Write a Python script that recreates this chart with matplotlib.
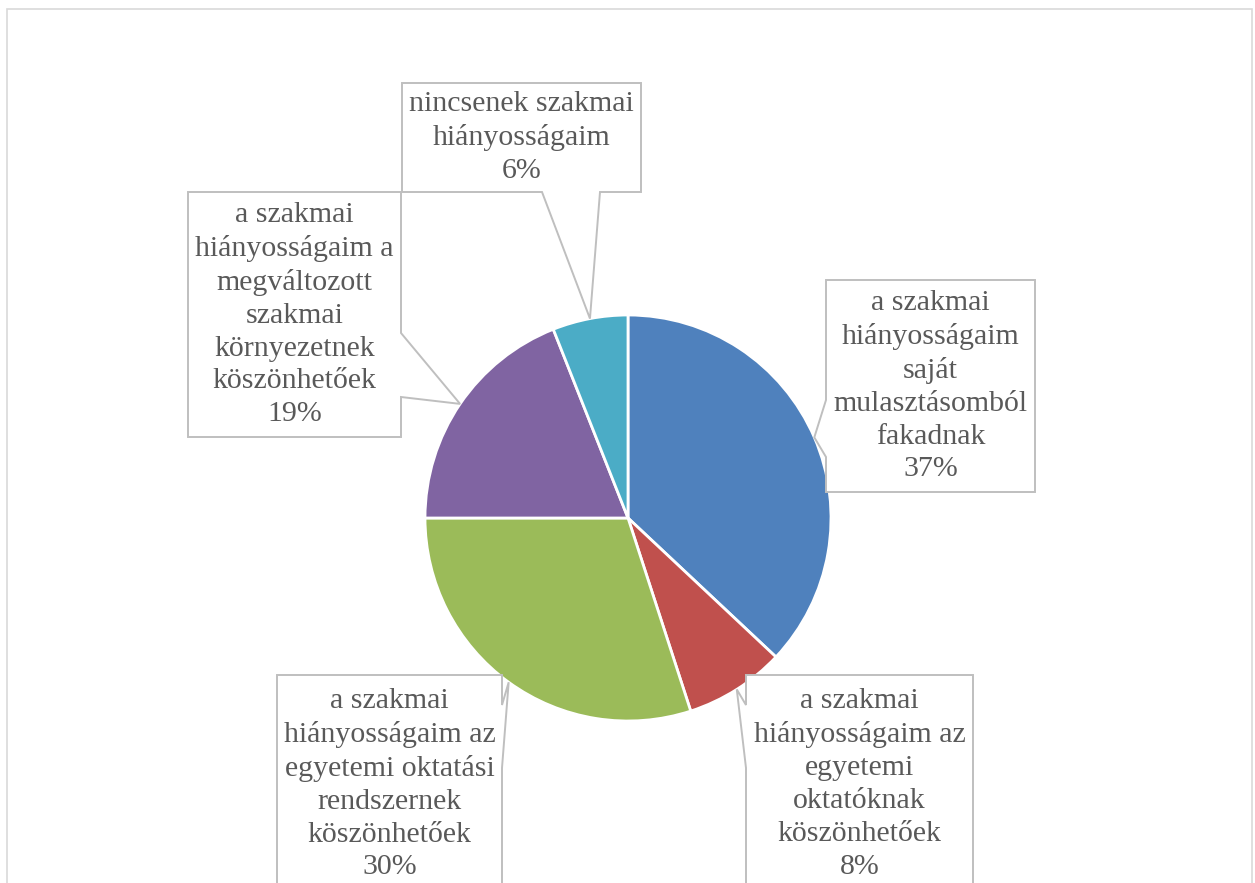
import numpy as np
import matplotlib.pyplot as plt
from matplotlib.patches import Polygon, Rectangle

plt.rcParams["font.family"] = ["Liberation Serif", "DejaVu Serif"]

# ============ 数据 ============
labels = [
    "a szakmai\nhiányosságaim\nsaját\nmulasztásomból\nfakadnak",
    "a szakmai\nhiányosságaim az\negyetemi\noktatóknak\nköszönhetőek",
    "a szakmai\nhiányosságaim az\negyetemi oktatási\nrendszernek\nköszönhetőek",
    "a szakmai\nhiányosságaim a\nmegváltozott\nszakmai\nkörnyezetnek\nköszönhetőek",
    "nincsenek szakmai\nhiányosságaim",
]
values = [37, 8, 30, 19, 6]
colors = ["#4F81BD", "#C0504D", "#9BBB59", "#8064A2", "#4BACC6"]

# ============ 画布 (像素坐标, y 向下) ============
W, H = 1255, 883
fig = plt.figure(figsize=(W / 100, H / 100), dpi=100)
ax = fig.add_axes([0, 0, 1, 1])
ax.set_xlim(0, W)
ax.set_ylim(0, H)
ax.set_aspect("equal")
ax.axis("off")


def py(y):
    """屏幕 y (向下) -> 数据 y (向上)"""
    return H - y


# 外框
ax.add_patch(Rectangle((7, py(895)), 1245, 886, fill=False,
                       edgecolor="#d9d9d9", linewidth=1.2))

# ============ 饼图 ============
cx, cy, r = 628, 518, 203
ax.pie(values, colors=colors, startangle=90, counterclock=False,
       center=(cx, py(cy)), radius=r, frame=True,
       wedgeprops=dict(edgecolor="white", linewidth=2))
ax.set_xlim(0, W)
ax.set_ylim(0, H)
ax.axis("off")

# 各扇区中间角度 (从 12 点钟方向顺时针)
cum = np.cumsum([0] + values)
mid = (cum[:-1] + cum[1:]) / 2 / sum(values) * 2 * np.pi
tips = [(cx + r * np.sin(t), cy - r * np.cos(t)) for t in mid]

# ============ 标注框 ============
# (x0, y0, x1, y1), 指针所在边, 指针根部区间
boxes = [
    ((826, 280, 1035, 492), "left", (400, 457)),
    ((746, 675, 973, 900), "left", (705, 768)),
    ((277, 675, 502, 900), "right", (705, 768)),
    ((188, 192, 401, 437), "right", (333, 397)),
    ((402, 83, 641, 192), "bottom", (542, 600)),
]


def callout(box, side, base, tip):
    x0, y0, x1, y1 = box
    b0, b1 = base
    tx, ty = tip
    if side == "left":
        pts = [(x0, y0), (x1, y0), (x1, y1), (x0, y1),
               (x0, b1), (tx, ty), (x0, b0)]
    elif side == "right":
        pts = [(x0, y0), (x1, y0), (x1, b0), (tx, ty), (x1, b1),
               (x1, y1), (x0, y1)]
    else:  # bottom
        pts = [(x0, y0), (x1, y0), (x1, y1), (b1, y1), (tx, ty),
               (b0, y1), (x0, y1)]
    return [(x, py(y)) for x, y in pts]


for (box, side, base), tip, lab, v in zip(boxes, tips, labels, values):
    ax.add_patch(Polygon(callout(box, side, base, tip), closed=True,
                         facecolor="white", edgecolor="#bfbfbf",
                         linewidth=1.4, zorder=3))
    x0, y0, x1, y1 = box
    ty = (y0 + y1) / 2 if y1 < H else 784
    ax.text((x0 + x1) / 2, py(ty), f"{lab}\n{v}%", ha="center", va="center",
            fontsize=21.5, color="#595959", linespacing=1.34, zorder=4)

fig.savefig("out.png", dpi=100, facecolor="white")
plt.close(fig)
